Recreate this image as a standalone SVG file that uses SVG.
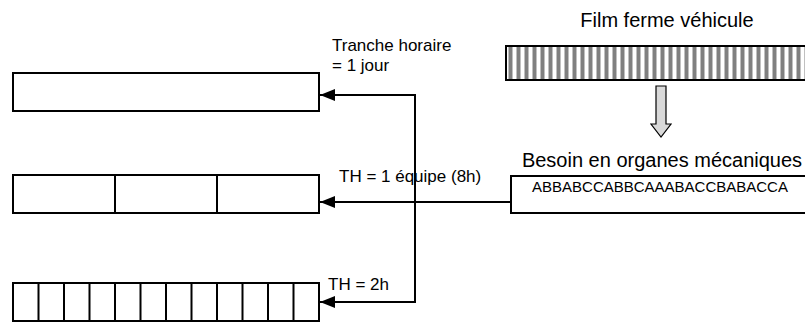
<svg xmlns="http://www.w3.org/2000/svg" width="805" height="322" viewBox="0 0 805 322">
<style>
  .box{fill:#fff;stroke:#000;stroke-width:2}
  .div{stroke:#000;stroke-width:2}
  .con{fill:none;stroke:#000;stroke-width:2}
  .lbl{font-family:"Liberation Sans",Arial,sans-serif;fill:#000}
  .big{font-size:20px}
  .sm{font-size:17px}
</style>
<defs>
  <marker id="ah" markerWidth="15" markerHeight="12" refX="15" refY="6" orient="auto" markerUnits="userSpaceOnUse">
    <path d="M0,0 L15,6 L0,12 Z" fill="#000"/>
  </marker>
  <pattern id="stripes" x="506" y="0" width="8" height="40" patternUnits="userSpaceOnUse">
    <rect x="0" y="0" width="8" height="40" fill="#fff"/>
    <rect x="2" y="0" width="1" height="40" fill="#c0c0c0"/>
    <rect x="3" y="0" width="3" height="40" fill="#808080"/>
    <rect x="6" y="0" width="1" height="40" fill="#c0c0c0"/>
  </pattern>
</defs>

<g id="film">
  <text class="lbl big" x="667" y="27" text-anchor="middle">Film ferme véhicule</text>
  <rect x="506" y="46" width="310" height="34" fill="url(#stripes)" stroke="#000" stroke-width="2"/>
</g>

<g id="down-arrow">
  <path d="M656,86 L666,86 L666,124 L671,124 L661,137 L651,124 L656,124 Z" fill="#d9d9d9" stroke="#000" stroke-width="1.2"/>
</g>

<g id="besoin">
  <text class="lbl big" x="662" y="167" text-anchor="middle">Besoin en organes mécaniques</text>
  <rect class="box" x="511" y="176" width="310" height="37"/>
  <text class="lbl" x="660" y="192" text-anchor="middle" font-size="15">ABBABCCABBCAAABACCBABACCA</text>
</g>

<g id="th-jour">
  <rect class="box" x="13" y="73" width="306" height="38"/>
</g>

<g id="th-equipe">
  <rect class="box" x="13" y="175" width="306" height="38"/>
  <line class="div" x1="115" y1="175" x2="115" y2="213"/>
  <line class="div" x1="217" y1="175" x2="217" y2="213"/>
</g>

<g id="th-2h">
  <rect class="box" x="13" y="283" width="306" height="38"/>
  <path class="div" d="M38.5,283V321M64,283V321M89.5,283V321M115,283V321M140.5,283V321M166,283V321M191.5,283V321M217,283V321M242.5,283V321M268,283V321M293.5,283V321"/>
</g>

<g id="connectors">
  <path class="con" d="M415,302 L415,95 L320,95" marker-end="url(#ah)"/>
  <path class="con" d="M511,202 L320,202" marker-end="url(#ah)"/>
  <path class="con" d="M415,95 L415,302 L320,302" marker-end="url(#ah)"/>
</g>

<g id="labels">
  <text class="lbl sm" x="332" y="51">Tranche horaire</text>
  <text class="lbl sm" x="332" y="71">= 1 jour</text>
  <text class="lbl sm" x="339" y="182">TH = 1 équipe (8h)</text>
  <text class="lbl sm" x="328" y="290">TH = 2h</text>
</g>
</svg>
